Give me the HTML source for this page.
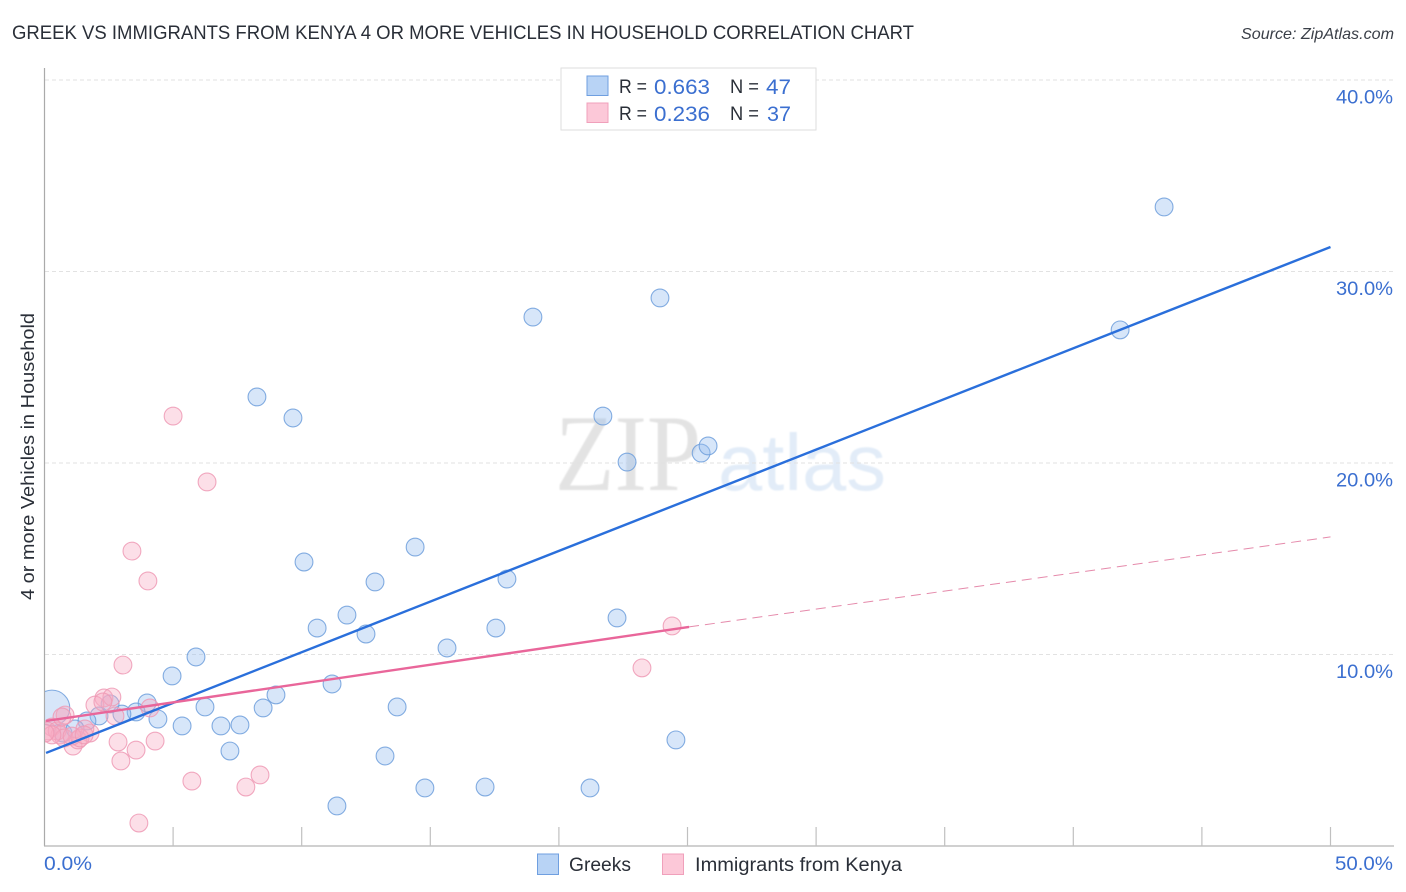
<!DOCTYPE html>
<html>
<head>
<meta charset="utf-8">
<title>Greek vs Immigrants from Kenya correlation chart</title>
<style>
html,body{margin:0;padding:0;background:#fff;width:1406px;height:892px;overflow:hidden}
svg{display:block;font-family:"Liberation Sans",sans-serif}
</style>
</head>
<body>
<svg id="chart" width="1406" height="892" viewBox="0 0 1406 892" xmlns="http://www.w3.org/2000/svg">
<defs>
<clipPath id="plot-clip"><rect x="45" y="60" width="1350" height="786"/></clipPath>
<filter id="soft" x="-5%" y="-5%" width="110%" height="110%"><feGaussianBlur stdDeviation="0.7"/></filter>
</defs>
<rect width="1406" height="892" fill="#fff"/>
<text x="12" y="39" font-size="19.5" fill="#2a2f38" textLength="902" lengthAdjust="spacingAndGlyphs">GREEK VS IMMIGRANTS FROM KENYA 4 OR MORE VEHICLES IN HOUSEHOLD CORRELATION CHART</text>
<text x="1241" y="39" font-size="16" font-style="italic" fill="#3a3f48" textLength="153" lengthAdjust="spacingAndGlyphs">Source: ZipAtlas.com</text>
<g filter="url(#soft)">
<text x="555" y="490" font-family="'Liberation Serif',serif" font-size="109" fill="#e3e3e3" textLength="146" lengthAdjust="spacingAndGlyphs">ZIP</text>
<text x="718" y="490" font-size="80" fill="#e2ecf8" textLength="168" lengthAdjust="spacingAndGlyphs">atlas</text>
</g>
<g id="grid"></g>
<g id="axes"></g>
<g id="pts-blue" clip-path="url(#plot-clip)"></g>
<g id="pts-pink" clip-path="url(#plot-clip)"></g>
<g id="trends"></g>
<g id="ylabels"></g>
<text x="44" y="870" font-size="19" fill="#3b6fd0" textLength="48" lengthAdjust="spacingAndGlyphs">0.0%</text>
<text x="1393" y="870" font-size="19" fill="#3b6fd0" text-anchor="end" textLength="58" lengthAdjust="spacingAndGlyphs">50.0%</text>
<text transform="translate(34,600) rotate(-90)" x="0" y="0" font-size="18.5" fill="#2a2f38" textLength="287" lengthAdjust="spacingAndGlyphs">4 or more Vehicles in Household</text>
<g>
<rect x="561" y="68" width="255" height="62" fill="#fff" stroke="#dedede" stroke-width="1"/>
<rect x="587" y="76" width="21" height="19.5" fill="#b8d3f5" stroke="#6f9fe0" stroke-width="1"/>
<rect x="587" y="103" width="21" height="19.5" fill="#fcc8d8" stroke="#f0a0bb" stroke-width="1"/>
<text x="619" y="93" font-size="19" fill="#2a2f38" textLength="28" lengthAdjust="spacingAndGlyphs">R =</text>
<text x="654" y="94" font-size="21" fill="#3b6fd0" textLength="56" lengthAdjust="spacingAndGlyphs">0.663</text>
<text x="730" y="93" font-size="19" fill="#2a2f38" textLength="29" lengthAdjust="spacingAndGlyphs">N =</text>
<text x="766" y="94" font-size="21" fill="#3b6fd0" textLength="25" lengthAdjust="spacingAndGlyphs">47</text>
<text x="619" y="120" font-size="19" fill="#2a2f38" textLength="28" lengthAdjust="spacingAndGlyphs">R =</text>
<text x="654" y="121" font-size="21" fill="#3b6fd0" textLength="56" lengthAdjust="spacingAndGlyphs">0.236</text>
<text x="730" y="120" font-size="19" fill="#2a2f38" textLength="29" lengthAdjust="spacingAndGlyphs">N =</text>
<text x="767" y="121" font-size="21" fill="#3b6fd0" textLength="24" lengthAdjust="spacingAndGlyphs">37</text>
</g>
<g>
<rect x="537.5" y="854" width="21" height="20.5" fill="#b8d3f5" stroke="#6f9fe0" stroke-width="1"/>
<text x="569" y="871" font-size="19" fill="#2a2f38" textLength="62" lengthAdjust="spacingAndGlyphs">Greeks</text>
<rect x="662.5" y="854" width="21" height="20.5" fill="#fcc8d8" stroke="#f0a0bb" stroke-width="1"/>
<text x="695" y="871" font-size="19" fill="#2a2f38" textLength="207" lengthAdjust="spacingAndGlyphs">Immigrants from Kenya</text>
</g>
</svg>
<script>
const yTicks = [10, 20, 30, 40];
const yTickLabels = ["10.0%", "20.0%", "30.0%", "40.0%"];
const xTicks = [5, 10, 15, 20, 25, 30, 35, 40, 45, 50];
const greeksX = [43.53,41.82,23.93,18.99,21.71,8.26,9.66,22.65,25.53,25.80,10.09,14.41,12.85,17.98,11.76,10.60,12.50,17.55,22.26,15.65,5.89,4.96,11.18,9.00,3.99,6.24,8.50,13.71,4.41,3.56,3.01,2.12,1.65,5.35,6.86,7.60,7.21,13.24,24.55,11.37,14.79,17.13,21.21,0.29,2.55,0.72,1.19];
const greeksY = [33.37,26.95,28.62,27.62,22.45,23.45,22.35,20.05,20.52,20.89,14.83,15.61,13.79,13.94,12.06,11.38,11.07,11.38,11.91,10.34,9.87,8.88,8.46,7.89,7.47,7.26,7.21,7.26,6.63,7.00,6.89,6.79,6.53,6.27,6.27,6.32,4.96,4.70,5.54,2.09,3.03,3.08,3.03,7.21,7.42,5.90,6.11];
const greeksWeight = [1,1,1,1,1,1,1,1,1,1,1,1,1,1,1,1,1,1,1,1,1,1,1,1,1,1,1,1,1,1,1,1,1,1,1,1,1,1,1,1,1,1,1,2,1,1,1];
const kenyaX = [5.00,6.32,3.40,4.02,24.40,23.23,3.05,2.31,2.62,1.96,2.27,2.74,4.10,0.80,0.29,0.10,4.30,2.86,3.56,2.97,5.73,7.83,8.38,3.67,1.11,1.77,1.57,1.30,0.60,0.49,0.76,0.29,0.68,1.38,1.07,0.02,1.54];
const kenyaY = [22.45,19.01,15.40,13.84,11.49,9.30,9.45,7.73,7.78,7.36,7.52,6.79,7.21,6.84,6.21,6.01,5.48,5.43,5.01,4.44,3.39,3.08,3.71,1.20,5.22,5.90,6.11,5.54,5.80,6.01,5.64,5.80,6.74,5.64,5.74,5.90,5.80];
const greeksTrendX = [0.06, 50];
const greeksTrendY = [4.86, 31.28];
const kenyaTrendX = [0.06, 25.06];
const kenyaTrendY = [6.53, 11.44];
const kenyaTrendExtX = [25.06, 50];
const kenyaTrendExtY = [11.44, 16.14];

const SVGNS = "http://www.w3.org/2000/svg";
function xScale(v){ return 44.5 + v * 25.72; }
function yScale(v){ return 846 - v * 19.15; }
function make(tag, parent, attrs){
  const el = document.createElementNS(SVGNS, tag);
  for (const k in attrs) el.setAttribute(k, attrs[k]);
  document.getElementById(parent).appendChild(el);
  return el;
}

yTicks.forEach(function(t, i){
  const line = make("line", "grid", {x1:45, x2:1394, y1:yScale(t), y2:yScale(t), stroke:"#e2e2e2", "stroke-width":1, "stroke-dasharray":"4 3"});
  
  
  const label = make("text", "ylabels", {x:1393, y:yScale(t) + 23.5, "text-anchor":"end", "font-size":19, fill:"#3b6fd0", textLength:57, lengthAdjust:"spacingAndGlyphs"});
  label.textContent = yTickLabels[i];
  
  
});

const yAxis = make("line", "axes", {x1:44.5, x2:44.5, y1:68, y2:846, stroke:"#aaaaaa", "stroke-width":1.2});


const xAxis = make("line", "axes", {x1:44, x2:1394, y1:846, y2:846, stroke:"#b4b4b4", "stroke-width":1.2});


xTicks.forEach(function(t){
  const tick = make("line", "axes", {x1:xScale(t), x2:xScale(t), y1:827, y2:846, stroke:"#c0c0c0", "stroke-width":1.2});
  
  
});

greeksX.forEach(function(v, i){
  const c = make("circle", "pts-blue", {cx:xScale(v), cy:yScale(greeksY[i]), r:8.9 * greeksWeight[i], fill:"rgba(150,190,240,0.38)", stroke:"#6f9fdc", "stroke-width":1.1, "stroke-opacity":0.85});
  
  
});
kenyaX.forEach(function(v, i){
  const c = make("circle", "pts-pink", {cx:xScale(v), cy:yScale(kenyaY[i]), r:8.9, fill:"rgba(248,170,195,0.38)", stroke:"#ee9ab5", "stroke-width":1.1, "stroke-opacity":0.85});
  
  
});

const tg = make("line", "trends", {x1:xScale(greeksTrendX[0]), y1:yScale(greeksTrendY[0]), x2:xScale(greeksTrendX[1]), y2:yScale(greeksTrendY[1]), stroke:"#2a6fdb", "stroke-width":2.4});


const tk = make("line", "trends", {x1:xScale(kenyaTrendX[0]), y1:yScale(kenyaTrendY[0]), x2:xScale(kenyaTrendX[1]), y2:yScale(kenyaTrendY[1]), stroke:"#e9669a", "stroke-width":2.4});


const te = make("line", "trends", {x1:xScale(kenyaTrendExtX[0]), y1:yScale(kenyaTrendExtY[0]), x2:xScale(kenyaTrendExtX[1]), y2:yScale(kenyaTrendExtY[1]), stroke:"#e58aab", "stroke-width":1, "stroke-dasharray":"10 6"});


</script>
</body>
</html>
